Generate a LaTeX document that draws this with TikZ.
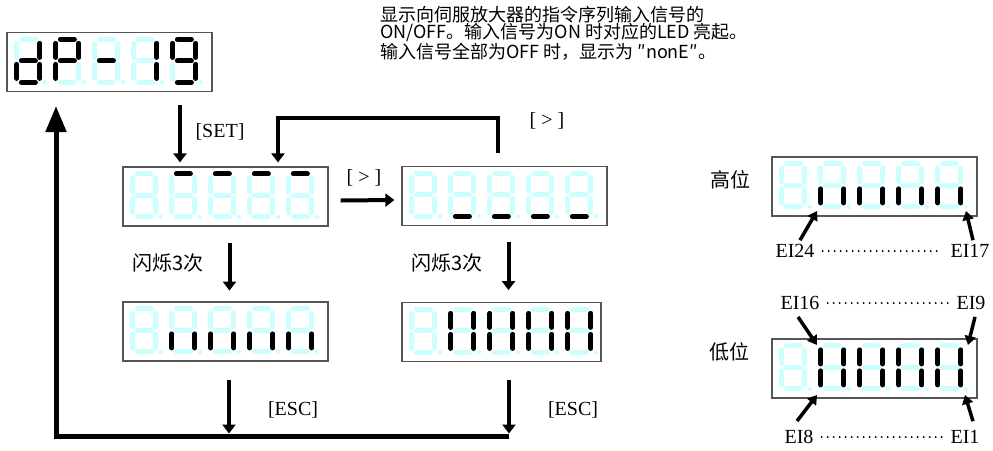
\documentclass[tikz,border=0pt]{standalone}
\usepackage{fontspec}
\setmainfont{Liberation Serif}
\newfontfamily\cjk{Noto Sans CJK SC}
\usetikzlibrary{arrows.meta,calc}
\definecolor{ledoff}{RGB}{204,255,255}
\definecolor{ledon}{RGB}{0,0,0}
\definecolor{ledframe}{RGB}{85,85,85}

% segments of one digit, top left corner at (0,0)
\newcommand{\ledsega}{(7,2.5) -- (21,2.5)}
\newcommand{\ledsegb}{(25.5,6.5) -- (25.5,20.5)}
\newcommand{\ledsegc}{(25.5,27.5) -- (25.5,41.5)}
\newcommand{\ledsegd}{(7,45.5) -- (21,45.5)}
\newcommand{\ledsege}{(2.5,27.5) -- (2.5,41.5)}
\newcommand{\ledsegf}{(2.5,6.5) -- (2.5,20.5)}
\newcommand{\ledsegg}{(7,24) -- (21,24)}

% one digit: x offset in the frame, list of lit segments
\newcommand{\leddigit}[2]{%
  \begin{scope}[shift={(#1,5)}]
    \foreach \s in {a,b,c,d,e,f,g} {\draw[segline, ledoff] \csname ledseg\s\endcsname;}
    \fill[ledoff] (30.5,45.5) circle (2.3pt);
    \foreach \s in {#2} {\ifx\s\empty\else\draw[segline, ledon] \csname ledseg\s\endcsname;\fi}
  \end{scope}}

% five digits inside a frame node
\newcommand{\ledrow}[6]{%
  \begin{scope}[shift={(#1.north west)}]
    \leddigit{8}{#2}\leddigit{47}{#3}\leddigit{86}{#4}\leddigit{125}{#5}\leddigit{164}{#6}
  \end{scope}}

\begin{document}
\begin{tikzpicture}[x=1pt, y=-1pt,
    ledbox/.style={draw=ledframe, line width=1.2pt, minimum width=205pt, minimum height=59pt, inner sep=0pt},
    segline/.style={line width=5pt, line cap=round},
    flowarrow/.style={line width=4pt, -{Triangle[width=13pt,length=9pt]}},
    backarrow/.style={line width=5pt, -{Triangle[width=20pt,length=26pt]}},
    eiarrow/.style={line width=3.5pt, -{Triangle[width=11pt,length=9pt]}},
    eidots/.style={line width=2.2pt, line cap=round, dash pattern=on 0pt off 6pt, shorten <=8pt, shorten >=8pt},
    keylbl/.style={font=\fontsize{20}{22}\selectfont, inner sep=0pt},
    cjklbl/.style={font=\cjk\fontsize{20}{22}\selectfont, inner sep=0pt}]
  \useasboundingbox (0,0) rectangle (993,450);

  % Note
  \node[font=\cjk\fontsize{18}{17.5}\selectfont, align=left, anchor=north west, inner sep=0pt] (note) at (380,6)
    {显示向伺服放大器的指令序列输入信号的\\ON/OFF。输入信号为ON 时对应的LED 亮起。\\输入信号全部为OFF 时，显示为 ″nonE″。};

  % Displays
  \node[ledbox] (disp1) at (109.5,62) {};
  \ledrow{disp1}{b,c,d,e,g}{a,b,e,f,g}{g}{b,c}{a,b,c,d,f,g}
  \node[ledbox] (disp2) at (225.5,196.5) {};
  \ledrow{disp2}{}{a}{a}{a}{a}
  \node[ledbox] (disp3) at (504.5,196) {};
  \ledrow{disp3}{}{d}{d}{d}{d}
  \node[ledbox] (disp4) at (225.5,331.5) {};
  \ledrow{disp4}{}{c,e}{c,e}{c,e}{c,e}
  \node[ledbox, minimum width=199pt] (disp5) at (501.5,332) {};
  \ledrow{disp5}{}{b,c,e,f}{b,c,e,f}{b,c,e,f}{b,c,e,f}
  \node[ledbox] (disphi) at (874.5,186.5) {};
  \ledrow{disphi}{}{c,e}{c,e}{c,e}{c,e}
  \node[ledbox] (displo) at (874.5,368.5) {};
  \ledrow{displo}{}{b,c,e,f}{b,c,e,f}{b,c,e,f}{b,c,e,f}

  % Key labels
  \node[keylbl] (setlbl) at (220,132) {[SET]};
  \node[keylbl] (nextlbl) at (547,121) {[ > ]};
  \node[keylbl] (shiftlbl) at (364,178) {[ > ]};
  \node[cjklbl] (blinkL) at (168,263) {闪烁3次};
  \node[cjklbl] (blinkR) at (447,263) {闪烁3次};
  \node[keylbl] (esclblL) at (293,410) {[ESC]};
  \node[keylbl] (esclblR) at (573,410) {[ESC]};

  % Flow
  \coordinate (setA) at (180,105);
  \draw[flowarrow, shorten >=4pt] (setA) -- (setA |- disp2.north);
  \coordinate (loopA) at (498,153);
  \coordinate (loopB) at (278,118);
  \draw[flowarrow, line width=4.5pt, shorten >=4pt] (loopA) |- (loopB) -- (loopB |- disp2.north);
  \draw[flowarrow] ([xshift=12pt,yshift=-4pt]disp2.east) -- ([xshift=-7pt,yshift=-4pt]disp3.west);
  \draw[flowarrow] ([xshift=4pt,yshift=-16pt]disp2.south) -- ++(0,48);
  \draw[flowarrow] ([xshift=4pt,yshift=-16pt]disp3.south) -- ++(0,48);

  % Back to dP-19
  \coordinate (escL) at (229,436);
  \coordinate (escR) at (509,436);
  \coordinate (backC) at (56,436);
  \coordinate (backT) at (56,106);
  \draw[flowarrow, shorten >=2.5pt] (disp4.south -| escL) ++(0,18) -- (escL);
  \draw[flowarrow, shorten >=2.5pt] (disp5.south -| escR) ++(0,18) -- (escR);
  \draw[backarrow] (escR) -- (backC) -- (backT);

  % High and low bits
  \node[cjklbl] (hilbl) at (730,180) {高位};
  \node[cjklbl] (lolbl) at (729,352) {低位};
  \node[keylbl] (ei24) at (795,251) {EI24};
  \node[keylbl] (ei17) at (970,251) {EI17};
  \node[keylbl] (ei16) at (800,303) {EI16};
  \node[keylbl] (ei9) at (971,303) {EI9};
  \node[keylbl] (ei8) at (799,437) {EI8};
  \node[keylbl] (ei1) at (965,437) {EI1};
  \draw[eidots] (ei24.east) -- (ei17.west);
  \draw[eidots] (ei16.east) -- (ei9.west);
  \draw[eidots] (ei8.east) -- (ei1.west);

  \coordinate (tip24) at (817,211);
  \coordinate (tip17) at (966,211);
  \coordinate (tip16) at (817,345);
  \coordinate (tip9) at (968,345);
  \coordinate (tip8) at (817,395);
  \coordinate (tip1) at (965,395);
  \draw[eiarrow] ([xshift=5pt,yshift=4pt]ei24.north) -- (tip24);
  \draw[eiarrow] ([xshift=3pt,yshift=4pt]ei17.north) -- (tip17);
  \draw[eiarrow] ([xshift=-2pt,yshift=-7pt]ei16.south) -- (tip16);
  \draw[eiarrow] ([xshift=4pt,yshift=-7pt]ei9.south) -- (tip9);
  \draw[eiarrow] ([xshift=-2pt,yshift=9pt]ei8.north) -- (tip8);
  \draw[eiarrow] ([xshift=8pt,yshift=9pt]ei1.north) -- (tip1);
\end{tikzpicture}
\end{document}
